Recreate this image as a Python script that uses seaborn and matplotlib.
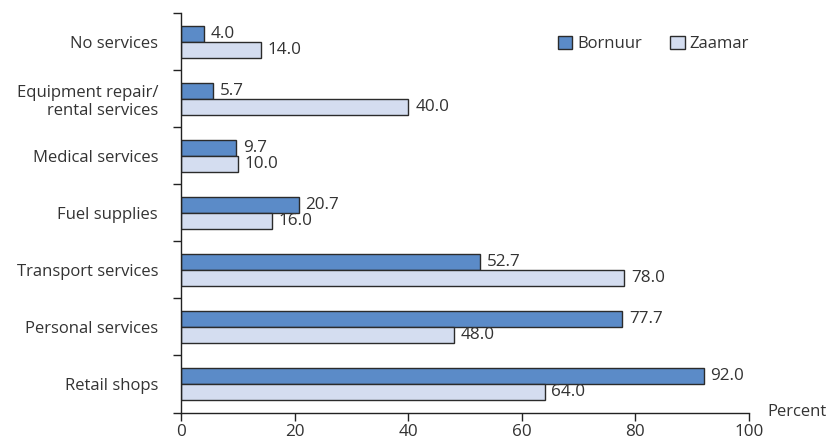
import matplotlib
matplotlib.use("Agg")
import matplotlib.pyplot as plt
from matplotlib.ticker import FixedLocator
import seaborn as sns
import pandas as pd
import numpy as np

categories = ["No services", "Equipment repair/\nrental services", "Medical services",
              "Fuel supplies", "Transport services", "Personal services", "Retail shops"]
bornuur = [4.0, 5.7, 9.7, 20.7, 52.7, 77.7, 92.0]
zaamar = [14.0, 40.0, 10.0, 16.0, 78.0, 48.0, 64.0]
series = ["Bornuur", "Zaamar"]
x_ticks = [0, 20, 40, 60, 80, 100]

df = pd.DataFrame({
    "category": categories * 2,
    "value": bornuur + zaamar,
    "site": [series[0]] * len(categories) + [series[1]] * len(categories),
})

sns.set_style("white")
plt.rcParams["font.family"] = ["Open Sans", "DejaVu Sans"]
text_color = "#333333"
fs = 12
fs_num = 12.3

fig = plt.figure(figsize=(8.33, 4.43), dpi=100)
ax = fig.add_axes([181 / 833, 1 - 412.5 / 443, (749 - 181) / 833, (412.5 - 13) / 443])

palette = {"Bornuur": "#5b8bc8", "Zaamar": "#d4ddf0"}
sns.barplot(data=df, y="category", x="value", hue="site", order=categories,
            hue_order=series, palette=palette, orient="h", width=0.56,
            edgecolor="#2b2b2b", linewidth=1.0, saturation=1, ax=ax)

for cont in ax.containers:
    ax.bar_label(cont, fmt="%.1f", padding=5, fontsize=fs_num, color=text_color)

ax.set_xlim(0, 100)
ax.set_ylim(6.5, -0.5)
ax.set_xticks(x_ticks)
ax.set_xticklabels([str(t) for t in x_ticks], fontsize=fs_num, color=text_color)
ax.tick_params(axis="x", bottom=True, direction="out", length=6, width=1,
               color="#222222", pad=2.5)

ax.tick_params(axis="y", which="major", left=True, length=0, pad=16.5,
               labelsize=fs, labelcolor=text_color)
ax.yaxis.set_minor_locator(FixedLocator(np.arange(-0.5, 7, 1.0)))
ax.tick_params(axis="y", which="minor", left=True, direction="out", length=6,
               width=1, color="#222222")
for lbl in ax.get_yticklabels():
    lbl.set_horizontalalignment("right")
    lbl.set_multialignment("right")

ax.set_xlabel("")
ax.set_ylabel("")
for side in ["top", "right"]:
    ax.spines[side].set_visible(False)
for side in ["left", "bottom"]:
    ax.spines[side].set_color("#222222")
    ax.spines[side].set_linewidth(1.0)

ax.text(1.033, 0.0, "Percent", transform=ax.transAxes, fontsize=fs,
        color=text_color, ha="left", va="center")

handles, labels = ax.get_legend_handles_labels()
ax.legend(handles, labels, loc="center left", bbox_to_anchor=(0.664, 0.922), ncol=2,
          frameon=False, fontsize=fs, handlelength=0.85, handleheight=0.85,
          handletextpad=0.3, columnspacing=1.7, labelcolor=text_color,
          borderpad=0, borderaxespad=0)

fig.savefig("out.png", dpi=100)
